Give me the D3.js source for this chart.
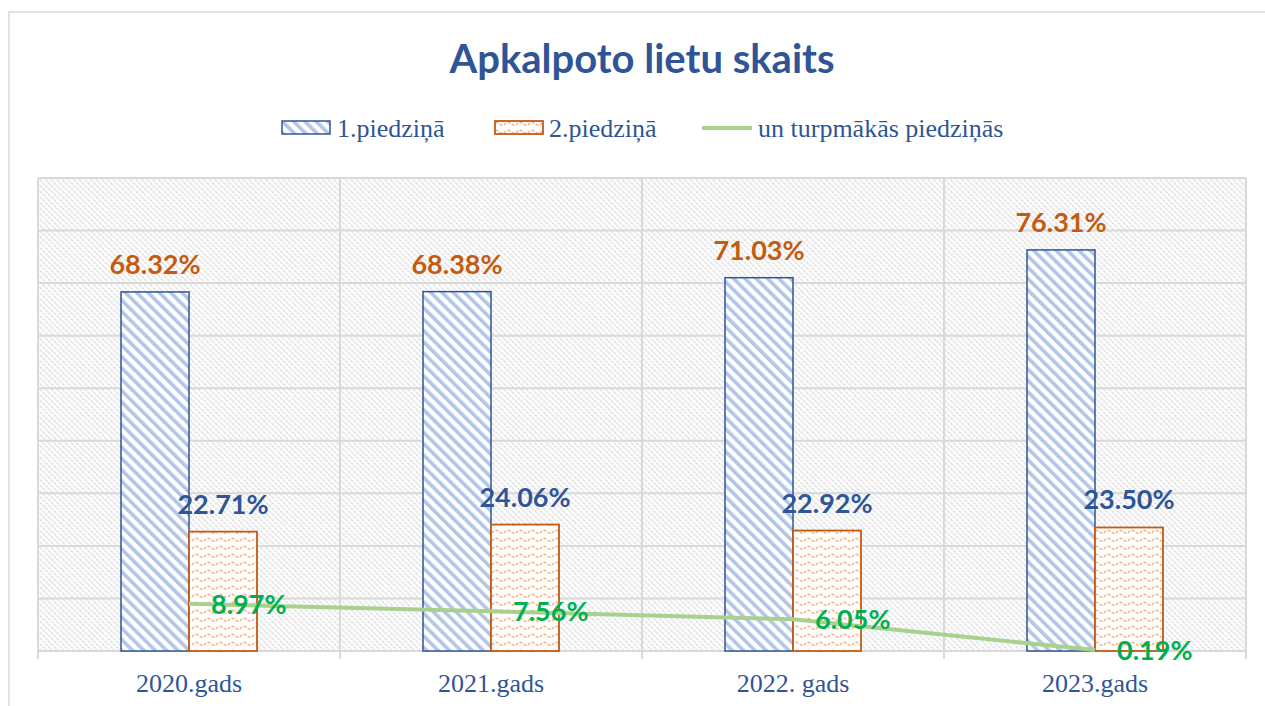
<!DOCTYPE html>
<html><head><meta charset="utf-8">
<script src="https://cdn.jsdelivr.net/npm/d3@7"></script>
<style>html,body{margin:0;padding:0;background:#fff;}svg{display:block;}</style>
</head><body>
<svg id="c" width="1265" height="706"></svg>
<script>
const categories = ["2020.gads", "2021.gads", "2022. gads", "2023.gads"];
const series1 = [68.32, 68.38, 71.03, 76.31];
const series2 = [22.71, 24.06, 22.92, 23.50];
const series3 = [8.97, 7.56, 6.05, 0.19];
const seriesNames = ["1.piedziņā", "2.piedziņā", "un turpmākās piedziņās"];
const title = "Apkalpoto lietu skaits";
const yTicks = [0,10,20,30,40,50,60,70,80,90];

const svg = d3.select("#c");
const defs = svg.append("defs");
const BLUE = "#2f5597", ORANGE = "#c55a11", GREEN_L = "#a9d18e", GREEN_T = "#00b050";

// background pattern
const bg = defs.append("pattern").attr("id","bgpat").attr("patternUnits","userSpaceOnUse")
  .attr("width",4).attr("height",4).attr("patternTransform","rotate(-45)");
bg.append("rect").attr("width",4).attr("height",4).attr("fill","#fff");
bg.append("line").attr("x1",1).attr("y1",0).attr("x2",1).attr("y2",4)
  .attr("stroke","#d6d6d6").attr("stroke-width",1.3).attr("stroke-dasharray","2.2 1");
// blue stripes
const bp = defs.append("pattern").attr("id","bluepat").attr("patternUnits","userSpaceOnUse")
  .attr("width",8).attr("height",8).attr("patternTransform","rotate(-45)");
bp.append("rect").attr("width",8).attr("height",8).attr("fill","#fff");
bp.append("rect").attr("x",0).attr("width",3.6).attr("height",8).attr("fill","#b0c5e8");
// orange waves
const op = defs.append("pattern").attr("id","orpat").attr("patternUnits","userSpaceOnUse")
  .attr("width",12).attr("height",8);
op.append("rect").attr("width",12).attr("height",8).attr("fill","#fff");
op.append("path").attr("d","M0,5 Q3,1 6,3 Q9,6 12,5").attr("fill","none")
  .attr("stroke","#f4b183").attr("stroke-width",1.5).attr("stroke-dasharray","3 1.5");

// outer border
svg.append("rect").attr("x",9).attr("y",12).attr("width",1300).attr("height",750)
  .attr("fill","none").attr("stroke","#d9d9d9").attr("stroke-width",1.5);

const x = d3.scaleBand().domain(categories).range([38,1246]).padding(0);
const y = d3.scaleLinear().domain([0,90]).range([651,178]);
const bw = 68;

// plot area bg
svg.append("rect").attr("x",38).attr("y",y(90)).attr("width",1208).attr("height",y(0)-y(90)).attr("fill","url(#bgpat)");

// horizontal gridlines
svg.append("g").selectAll("line").data(yTicks).join("line")
  .attr("x1",38).attr("x2",1246).attr("y1",d=>y(d)).attr("y2",d=>y(d))
  .attr("stroke","#d9d9d9").attr("stroke-width",2);
// vertical lines at band edges
const edges = categories.map(c=>x(c)).concat([x.range()[1]]);
svg.append("g").selectAll("line").data(edges).join("line")
  .attr("x1",d=>d).attr("x2",d=>d).attr("y1",y(90)).attr("y2",y(0)+8)
  .attr("stroke","#d9d9d9").attr("stroke-width",2);

const cx = c => x(c) + x.bandwidth()/2;

// bars
svg.append("g").selectAll("rect").data(series1).join("rect")
  .attr("x",(d,i)=>cx(categories[i])-bw).attr("y",d=>y(d)).attr("width",bw).attr("height",d=>y(0)-y(d))
  .attr("fill","url(#bluepat)").attr("stroke",BLUE).attr("stroke-width",1.5);
svg.append("g").selectAll("rect").data(series2).join("rect")
  .attr("x",(d,i)=>cx(categories[i])).attr("y",d=>y(d)).attr("width",bw).attr("height",d=>y(0)-y(d))
  .attr("fill","url(#orpat)").attr("stroke",ORANGE).attr("stroke-width",1.8);

// line
const line = d3.line().x((d,i)=>cx(categories[i])).y(d=>y(d));
svg.append("path").datum(series3).attr("d",line).attr("fill","none")
  .attr("stroke",GREEN_L).attr("stroke-width",4);

const lblFont = "Lato, 'Open Sans', sans-serif";
// labels
svg.append("g").selectAll("text").data(series1).join("text")
  .attr("x",(d,i)=>cx(categories[i])-bw/2).attr("y",d=>y(d)-18)
  .attr("text-anchor","middle").attr("font-family",lblFont).attr("font-weight","bold")
  .attr("font-size",27).attr("fill",ORANGE).text(d=>d.toFixed(2)+"%");
svg.append("g").selectAll("text").data(series2).join("text")
  .attr("x",(d,i)=>cx(categories[i])+bw/2).attr("y",d=>y(d)-18)
  .attr("text-anchor","middle").attr("font-family",lblFont).attr("font-weight","bold")
  .attr("font-size",27).attr("fill",BLUE).text(d=>d.toFixed(2)+"%");
svg.append("g").selectAll("text").data(series3).join("text")
  .attr("x",(d,i)=>cx(categories[i])+22).attr("y",d=>y(d)+10)
  .attr("text-anchor","start").attr("font-family",lblFont).attr("font-weight","bold")
  .attr("font-size",27).attr("fill",GREEN_T).text(d=>d.toFixed(2)+"%");

// x axis labels
svg.append("g").selectAll("text").data(categories).join("text")
  .attr("x",d=>cx(d)).attr("y",692).attr("text-anchor","middle")
  .attr("font-family","'Liberation Serif', 'Times New Roman', serif").attr("font-size",26)
  .attr("fill",BLUE).text(d=>d);

// title
svg.append("text").attr("x",642).attr("y",73).attr("text-anchor","middle")
  .attr("font-family",lblFont).attr("font-weight","bold").attr("font-size",40)
  .attr("fill",BLUE).text(title);

// legend
const lg = svg.append("g").attr("font-family","'Liberation Serif', 'Times New Roman', serif").attr("font-size",26).attr("fill",BLUE);
lg.append("rect").attr("x",282).attr("y",121).attr("width",48).attr("height",13).attr("fill","url(#bluepat)").attr("stroke",BLUE).attr("stroke-width",1.5);
lg.append("text").attr("x",337).attr("y",137).text(seriesNames[0]);
lg.append("rect").attr("x",495).attr("y",121).attr("width",48).attr("height",13).attr("fill","url(#orpat)").attr("stroke",ORANGE).attr("stroke-width",1.8);
lg.append("text").attr("x",549).attr("y",137).text(seriesNames[1]);
lg.append("line").attr("x1",702).attr("x2",752).attr("y1",128).attr("y2",128).attr("stroke",GREEN_L).attr("stroke-width",4);
lg.append("text").attr("x",758).attr("y",137).text(seriesNames[2]);
</script>
</body></html>
